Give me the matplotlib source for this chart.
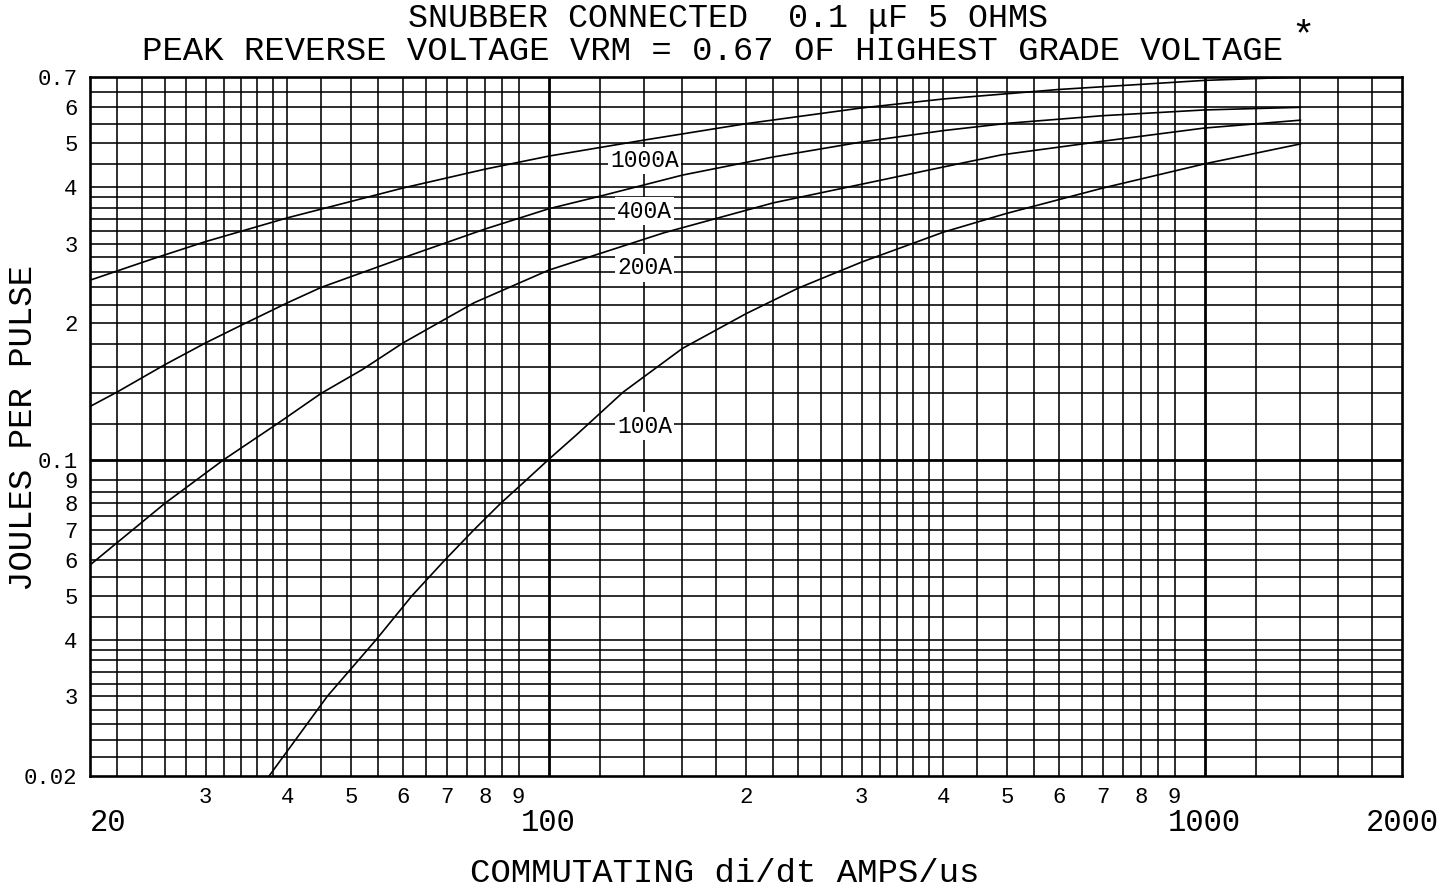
import matplotlib.pyplot as plt

plt.rcParams['font.family'] = ['Liberation Mono', 'DejaVu Sans Mono']

# curve data (di/dt in A/us, energy in J per pulse)
x_1000a = [20, 25, 30, 40, 60, 80, 100, 140, 200, 300, 400, 600, 1000, 1400]
y_1000a = [0.249, 0.278, 0.303, 0.342, 0.398, 0.438, 0.468, 0.508, 0.552, 0.598, 0.626, 0.657, 0.688, 0.700]

x_400a = [20, 22, 26, 30, 34, 40, 45, 60, 80, 100, 120, 160, 220, 300, 400, 500, 700, 1000, 1400]
y_400a = [0.131, 0.141, 0.162, 0.181, 0.198, 0.222, 0.240, 0.279, 0.323, 0.358, 0.382, 0.425, 0.466,
          0.503, 0.533, 0.553, 0.575, 0.592, 0.600]

x_200a = [20, 26, 32, 38.6, 45, 52, 60, 77, 100, 150, 220, 400, 490, 700, 1000, 1400]
y_200a = [0.0585, 0.080, 0.100, 0.120, 0.140, 0.158, 0.181, 0.222, 0.262, 0.317, 0.369, 0.443,
          0.471, 0.505, 0.540, 0.562]

x_100a = [37.5, 46, 54.6, 61.9, 69.5, 77, 84.5, 92.4, 100, 110, 130, 160, 200, 240, 300, 400, 500, 700, 1000, 1400]
y_100a = [0.020, 0.030, 0.040, 0.050, 0.060, 0.070, 0.080, 0.090, 0.100, 0.113, 0.141, 0.176, 0.210,
          0.239, 0.273, 0.318, 0.350, 0.398, 0.450, 0.498]

curve_names = ['1000A', '400A', '200A', '100A']

# tick labels
x_major = [20, 100, 1000, 2000]
x_major_labels = ['20', '100', '1000', '2000']
x_minor = [30, 40, 50, 60, 70, 80, 90, 200, 300, 400, 500, 600, 700, 800, 900]
x_minor_labels = ['3', '4', '5', '6', '7', '8', '9', '2', '3', '4', '5', '6', '7', '8', '9']
y_ticks = [0.7, 0.6, 0.5, 0.4, 0.3, 0.2, 0.1, 0.09, 0.08, 0.07, 0.06, 0.05, 0.04, 0.03, 0.02]
y_labels = ['0.7', '6', '5', '4', '3', '2', '0.1', '9', '8', '7', '6', '5', '4', '3', '0.02']

# graph paper rulings
x_grid = (list(range(22, 40, 2)) + list(range(40, 95, 5)) + [120, 140, 160, 180]
          + list(range(200, 400, 20)) + list(range(400, 950, 50)) + [1200, 1400, 1600, 1800])
y_grid = ([0.022 + 0.002 * i for i in range(9)] + [0.04 + 0.005 * i for i in range(11)]
          + [0.12, 0.14, 0.16, 0.18] + [0.2 + 0.02 * i for i in range(10)]
          + [0.4, 0.45, 0.5, 0.55, 0.6, 0.65])

W, H = 1449, 890
fig = plt.figure(figsize=(W / 100, H / 100), dpi=100)
ax = fig.add_axes([90 / W, 1 - 776 / H, (1402 - 90) / W, (776 - 77) / H])
ax.set_xscale('log')
ax.set_yscale('log')
ax.set_xlim(20, 2000)
ax.set_ylim(0.02, 0.7)

for v in x_grid:
    ax.axvline(v, color='black', lw=1.15, zorder=1)
for v in y_grid:
    ax.axhline(v, color='black', lw=1.15, zorder=1)
for v in [100, 1000]:
    ax.axvline(v, color='black', lw=2.0, zorder=1)
ax.axhline(0.1, color='black', lw=2.0, zorder=1)
for s in ax.spines.values():
    s.set_linewidth(1.9)

for xs, ys in [(x_1000a, y_1000a), (x_400a, y_400a), (x_200a, y_200a), (x_100a, y_100a)]:
    ax.plot(xs, ys, color='black', lw=1.2, zorder=3)

# curve labels sit in a column on the 140 ruling
label_y = [0.457, 0.354, 0.265, 0.1186]
for name, yy in zip(curve_names, label_y):
    ax.text(140, yy, name, ha='center', va='center', fontsize=16.5, zorder=4,
            bbox=dict(facecolor='white', edgecolor='none', pad=1.5))

ax.set_xticks(x_major, labels=x_major_labels)
ax.set_xticks(x_minor, labels=x_minor_labels, minor=True)
ax.set_yticks(y_ticks, labels=y_labels)
ax.set_yticks([], minor=True)
ax.tick_params(which='both', length=0)
ax.tick_params(axis='x', which='major', pad=23, labelsize=22)
ax.tick_params(axis='x', which='minor', pad=8, labelsize=16)
ax.tick_params(axis='y', pad=9, labelsize=16)
# the "20" sits just right of the left edge
ax.xaxis.get_major_ticks()[0].label1.set_horizontalalignment('left')

fig.text(728 / W, 1 - 18 / H, 'SNUBBER CONNECTED  0.1 μF 5 OHMS', ha='center', va='center', fontsize=24)
fig.text(712 / W, 1 - 52 / H, 'PEAK REVERSE VOLTAGE VRM = 0.67 OF HIGHEST GRADE VOLTAGE',
         ha='center', va='center', fontsize=24.5)
fig.text(1303 / W, 1 - 36 / H, '*', ha='center', va='center', fontsize=28)
fig.text(24 / W, 1 - 428 / H, 'JOULES PER PULSE', rotation=90, ha='center', va='center', fontsize=24.5)
fig.text(725 / W, 1 - 873 / H, 'COMMUTATING di/dt AMPS/us', ha='center', va='center', fontsize=24.5)

fig.savefig('out.png', dpi=100, facecolor='white')
